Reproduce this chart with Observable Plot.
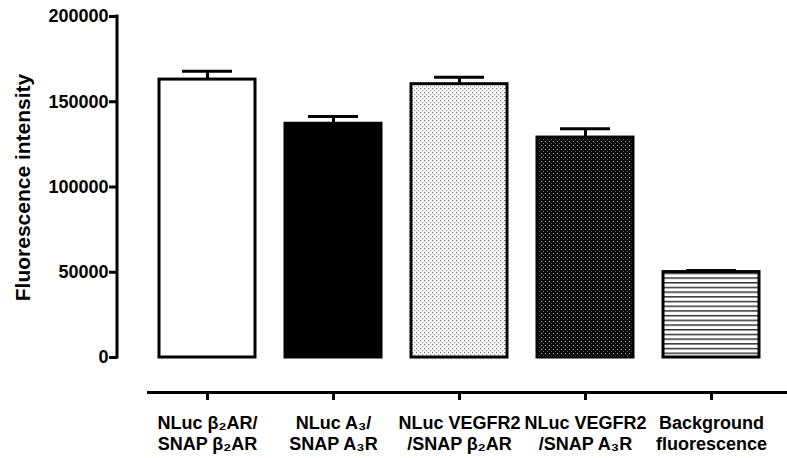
<!DOCTYPE html>
<html>
<head>
<meta charset="utf-8">
<script src="https://cdn.jsdelivr.net/npm/d3@7"></script>
<script src="https://cdn.jsdelivr.net/npm/@observablehq/plot@0.6"></script>
<style>
  html, body { margin: 0; padding: 0; background: #fff; }
  #chart svg { display: block; font-family: "Liberation Sans", Arial, sans-serif; }
</style>
</head>
<body>
<div id="chart"></div>
<script>
// ---- data ----
const categories = ["b2-b2", "A3-A3", "VEGFR2-b2", "VEGFR2-A3", "background"];
const means = [163000, 137100, 160300, 129000, 50100];
const errors = [4900, 4200, 4100, 5200, 900];
const tickLabels = [
  "NLuc β₂AR/\nSNAP β₂AR",
  "NLuc A₃/\nSNAP A₃R",
  "NLuc VEGFR2\n/SNAP β₂AR",
  "NLuc VEGFR2\n/SNAP A₃R",
  "Background\nfluorescence"
];
const yTicks = [0, 50000, 100000, 150000, 200000];
const yTitle = "Fluorescence intensity";

// ---- styles (pattern fills per bar) ----
const fills = ["#ffffff", "#000000", "url(#pDotsLight)", "url(#pDotsDark)", "url(#pLines)"];

const rows = categories.map((c, i) => ({cat: c, mean: means[i], err: errors[i]}));

// y-axis line drawn from the y scale's extent
function yAxisLine(index, scales, values, dimensions) {
  const x = dimensions.marginLeft;
  const [d0, d1] = scales.scales.y.domain;
  return d3.create("svg:line")
    .attr("x1", x).attr("x2", x)
    .attr("y1", scales.y(d0) + 1.5).attr("y2", scales.y(d1) - 1.5)
    .attr("stroke", "#000").attr("stroke-width", 3)
    .node();
}

const plot = Plot.plot({
  width: 787,
  height: 458,
  marginTop: 16,
  marginLeft: 117,
  marginRight: 0,
  marginBottom: 66,
  style: {background: "#fff", color: "#000"},
  x: {type: "band", domain: categories, range: [158, 759], paddingInner: 0.24, paddingOuter: 0},
  y: {domain: [0, 200000], range: [357, 16]},
  color: {type: "ordinal", domain: categories, range: fills},
  marks: [
    Plot.ruleX(rows, {x: "cat", y1: d => d.mean, y2: d => d.mean + d.err, stroke: "#000", strokeWidth: 3}),
    Plot.tickY(rows, {x: "cat", y: d => d.mean + d.err, stroke: "#000", strokeWidth: 3, insetLeft: 23, insetRight: 23}),
    Plot.barY(rows, {x: "cat", y: "mean", fill: "cat", stroke: "#000", strokeWidth: 3}),
    Plot.frame({anchor: "bottom", insetLeft: 31, stroke: "#000", strokeWidth: 3}),
    yAxisLine,
    Plot.axisY({ticks: yTicks, tickFormat: d => String(d), tickSize: 8, tickPadding: 1,
      strokeWidth: 3, fontSize: 18, fontWeight: "bold", label: null}),
    Plot.axisX({tickFormat: (d) => tickLabels[categories.indexOf(d)], tickSize: 8, tickPadding: 13,
      strokeWidth: 3, fontSize: 18, fontWeight: "bold", lineHeight: 1.18, label: null}),
    Plot.text([yTitle], {text: d => d, frameAnchor: "left", textAnchor: "middle", rotate: -90,
      dx: -94, dy: -17, fontSize: 21, fontWeight: "bold"})
  ]
});

// pattern definitions for bar fills
const svg = d3.select(plot);
const defs = svg.insert("defs", ":first-child");
const p1 = defs.append("pattern").attr("id", "pDotsLight").attr("patternUnits", "userSpaceOnUse")
  .attr("width", 4).attr("height", 4);
p1.append("rect").attr("width", 4).attr("height", 4).attr("fill", "#fff");
p1.append("rect").attr("x", 0).attr("y", 0).attr("width", 1.2).attr("height", 1.2).attr("fill", "#777");
p1.append("rect").attr("x", 2).attr("y", 2).attr("width", 1.2).attr("height", 1.2).attr("fill", "#999");
const p2 = defs.append("pattern").attr("id", "pDotsDark").attr("patternUnits", "userSpaceOnUse")
  .attr("width", 4).attr("height", 4);
p2.append("rect").attr("width", 4).attr("height", 4).attr("fill", "#0a0a0a");
p2.append("rect").attr("x", 1).attr("y", 1).attr("width", 1).attr("height", 1).attr("fill", "#bbb");
p2.append("rect").attr("x", 3).attr("y", 3).attr("width", 1).attr("height", 1).attr("fill", "#666");
const p3 = defs.append("pattern").attr("id", "pLines").attr("patternUnits", "userSpaceOnUse")
  .attr("width", 8).attr("height", 4.7);
p3.append("rect").attr("width", 8).attr("height", 4.7).attr("fill", "#fff");
p3.append("rect").attr("x", 0).attr("y", 0).attr("width", 8).attr("height", 1.5).attr("fill", "#333");

document.getElementById("chart").appendChild(plot);
</script>
</body>
</html>
